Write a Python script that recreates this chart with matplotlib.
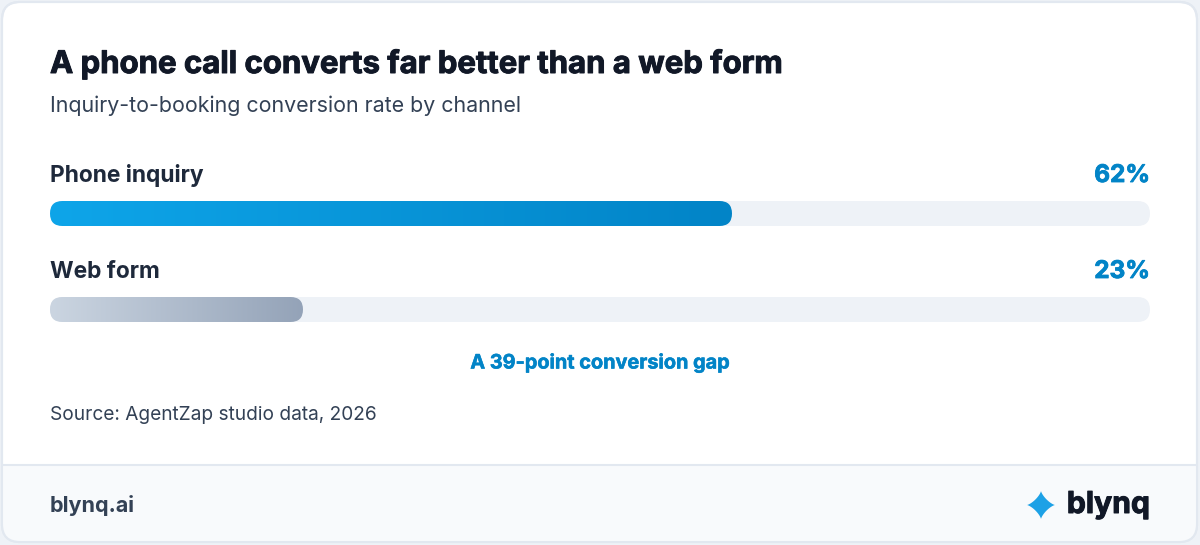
import matplotlib
matplotlib.use("Agg")
import matplotlib.pyplot as plt
import matplotlib.patheffects as pe
import numpy as np
from matplotlib.patches import FancyBboxPatch, Polygon
from matplotlib.colors import LinearSegmentedColormap

plt.rcParams["font.family"] = ["Inter", "DejaVu Sans"]

TITLE = "A phone call converts far better than a web form"
SUBTITLE = "Inquiry-to-booking conversion rate by channel"
channels = ["Phone inquiry", "Web form"]
rates = [62, 23]
value_labels = ["62%", "23%"]
bar_colors = [("#0ea5e9", "#0284c7"), ("#cbd5e1", "#94a3b8")]
NOTE = "A 39-point conversion gap"
SOURCE = "Source: AgentZap studio data, 2026"
FOOTER_LEFT = "blynq.ai"
BRAND = "blynq"

W, H = 1200, 545
fig = plt.figure(figsize=(W / 100, H / 100), dpi=100)
fig.patch.set_facecolor("#eef2f7")


def heavy(color, w=0.7):
    # thicken bold glyphs a little, the reference uses a heavier cut
    return [pe.withStroke(linewidth=w, foreground=color)]


# page axes in pixel units, y pointing down
ax = fig.add_axes([0, 0, 1, 1])
ax.set_xlim(0, W); ax.set_ylim(H, 0); ax.axis("off")

card = FancyBboxPatch((2, 2), 1195, 540, boxstyle="round,pad=0,rounding_size=18",
                      fc="white", ec="#e2e8f0", lw=1.5, zorder=1)
ax.add_patch(card)
footer = plt.Rectangle((0, 465), W, 80, fc="#f8fafc", ec="none", zorder=2)
footer.set_clip_path(card)
ax.add_patch(footer)
ax.plot([3, 1196], [465, 465], color="#e2e8f0", lw=1.5, zorder=3)
# redraw border on top
ax.add_patch(FancyBboxPatch((2, 2), 1195, 540, boxstyle="round,pad=0,rounding_size=18",
                            fc="none", ec="#e2e8f0", lw=1.5, zorder=4))

ax.text(50, 73, TITLE, fontsize=22.4, fontweight="bold", color="#111827", va="baseline",
        zorder=5, path_effects=heavy("#111827"))
ax.text(50, 112, SUBTITLE, fontsize=15.4, color="#334155", va="baseline", zorder=5)

# bar axes: x in percent, y in pixels
L, R, T, B = 50, 1150, 190, 335
bx = fig.add_axes([L / W, (H - B) / H, (R - L) / W, (B - T) / H])
bx.axis("off")
bx.patch.set_alpha(0)
px_per_unit = (R - L) / 100.0

label_y = [182, 278]
bar_y = [213.5, 309.5]
bar_h = 25

for name, val, vlab, (c0, c1), ly, by in zip(channels, rates, value_labels, bar_colors, label_y, bar_y):
    ax.text(50, ly, name, fontsize=16.4, fontweight="bold", color="#1e293b", va="baseline", zorder=5)
    ax.text(1150, ly, vlab, fontsize=17.5, fontweight="bold", color="#0284c7", va="baseline",
            ha="right", zorder=5, path_effects=heavy("#0284c7", 0.6))
    yy = by - T
    r = bar_h / 2 / px_per_unit
    track = FancyBboxPatch((0, yy - bar_h / 2), 100, bar_h,
                           boxstyle=f"round,pad=0,rounding_size={r}",
                           mutation_aspect=px_per_unit, fc="#eef2f7", ec="none", zorder=1)
    bx.add_patch(track)
    fill = FancyBboxPatch((0, yy - bar_h / 2), val, bar_h,
                          boxstyle=f"round,pad=0,rounding_size={r}",
                          mutation_aspect=px_per_unit, fc="none", ec="none", zorder=2)
    bx.add_patch(fill)
    cmap = LinearSegmentedColormap.from_list("g", [c0, c1])
    im = bx.imshow(np.linspace(0, 1, 256)[None, :], cmap=cmap, aspect="auto",
                   extent=[0, val, yy + bar_h / 2, yy - bar_h / 2], zorder=2,
                   interpolation="bilinear")
    im.set_clip_path(fill)

bx.set_xlim(0, 100)
bx.set_ylim(B - T, 0)

ax.text(600, 363, NOTE, fontsize=14.3, fontweight="bold", color="#0284c7", ha="center",
        va="center", zorder=5, path_effects=heavy("#0284c7", 0.4))
ax.text(50, 415, SOURCE, fontsize=13.75, color="#334155", va="center", zorder=5)

ax.text(50, 505, FOOTER_LEFT, fontsize=15.5, fontweight="bold", color="#334155",
        va="center", zorder=5)
ax.text(1150, 505, BRAND, fontsize=21.7, fontweight="bold", color="#111827", ha="right",
        va="center", zorder=5, path_effects=heavy("#111827"))

# sparkle logo
t = np.linspace(0, 2 * np.pi, 200)
p = 0.75
sx = 14 * np.sign(np.cos(t)) * np.abs(np.cos(t)) ** (2 / p)
sy = 14 * np.sign(np.sin(t)) * np.abs(np.sin(t)) ** (2 / p)
ax.add_patch(Polygon(np.column_stack([1041 + sx, 505 + sy]), closed=True,
                     fc="#1da1e6", ec="none", zorder=5))

fig.savefig("out.png", dpi=100)
